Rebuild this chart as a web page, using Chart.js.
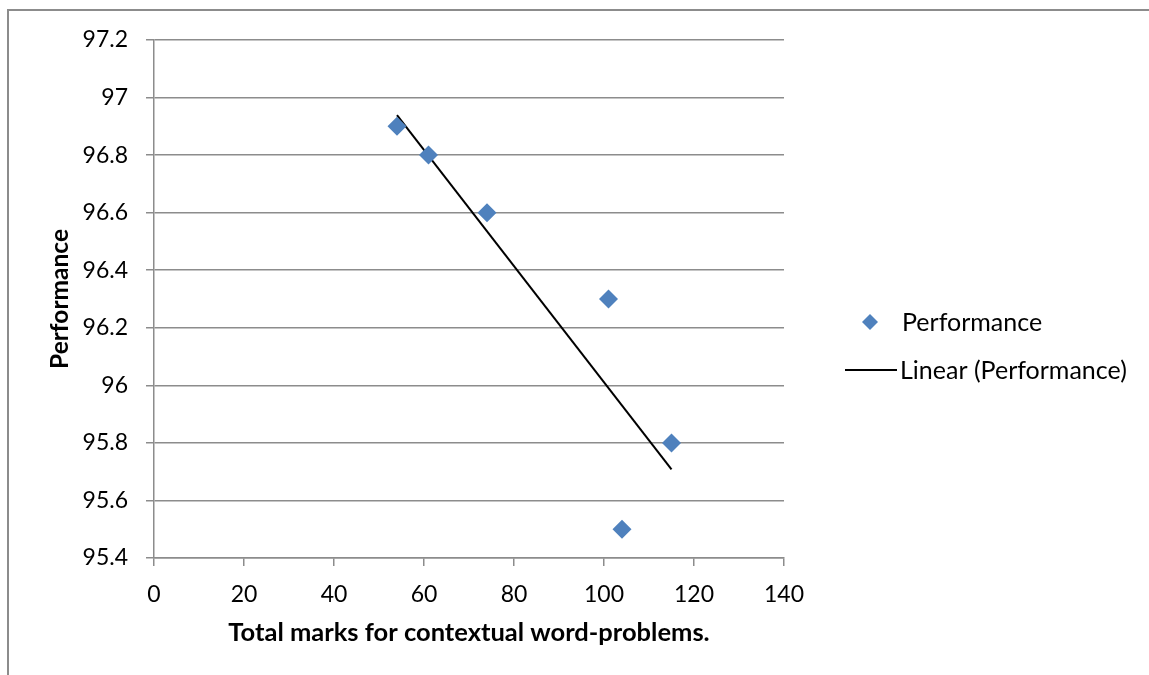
<!DOCTYPE html>
<html>
<head>
<meta charset="utf-8">
<script src="https://cdn.jsdelivr.net/npm/chart.js@4/dist/chart.umd.min.js"></script>
<style>
  html, body { margin: 0; padding: 0; background: #fff; }
  #wrap { position: relative; width: 1149px; height: 675px; overflow: hidden; }
  #frame { position: absolute; left: 7px; top: 9px; width: 1300px; height: 800px;
           border-left: 2px solid #8c8c8c; border-top: 2px solid #8c8c8c; box-sizing: border-box; }
  canvas { position: absolute; left: 0; top: 0; }
</style>
</head>
<body>
<div id="wrap">
  <div id="frame"></div>
  <canvas id="c" width="1149" height="675"></canvas>
</div>
<script>
// ---- data ----
const marks = [54, 61, 74, 101, 115, 104];
const performance = [96.9, 96.8, 96.6, 96.3, 95.8, 95.5];
const seriesLabel = "Performance";
const trendLabel = "Linear (Performance)";
const xTitle = "Total marks for contextual word-problems.";
const yTitle = "Performance";
const xMin = 0, xMax = 140, xStep = 20;
const yMin = 95.4, yMax = 97.2, yStep = 0.2;

// least-squares trend line, computed from the data
const n = marks.length;
const mx = marks.reduce((a, b) => a + b, 0) / n;
const my = performance.reduce((a, b) => a + b, 0) / n;
let sxy = 0, sxx = 0;
for (let i = 0; i < n; i++) { sxy += (marks[i] - mx) * (performance[i] - my); sxx += (marks[i] - mx) ** 2; }
const slope = sxy / sxx, intercept = my - slope * mx;
const x0 = Math.min(...marks), x1 = Math.max(...marks);
const trend = [{ x: x0, y: intercept + slope * x0 }, { x: x1, y: intercept + slope * x1 }];

const FONT = "Lato, 'Open Sans', sans-serif";
const GRID = "#8c8c8c";
const BLUE = "#4f81bd";

const legendPlugin = {
  id: "customLegend",
  afterDraw(chart) {
    const ctx = chart.ctx;
    ctx.save();
    ctx.font = "25px " + FONT;
    ctx.fillStyle = "#000";
    ctx.textBaseline = "middle";
    ctx.textAlign = "left";
    // diamond marker
    const dx = 870, dy = 322, r = 8;
    ctx.beginPath();
    ctx.moveTo(dx, dy - r); ctx.lineTo(dx + r, dy); ctx.lineTo(dx, dy + r); ctx.lineTo(dx - r, dy); ctx.closePath();
    ctx.fillStyle = BLUE; ctx.fill();
    ctx.fillStyle = "#000";
    ctx.fillText(chart.data.datasets[0].label, 902, 323);
    // line
    ctx.beginPath(); ctx.moveTo(845, 370); ctx.lineTo(897, 370);
    ctx.strokeStyle = "#000"; ctx.lineWidth = 2; ctx.stroke();
    ctx.fillText(chart.data.datasets[1].label, 900, 371);
    ctx.restore();
  }
};

const fmt = v => String(Number(Number(v).toFixed(1)));

new Chart(document.getElementById("c"), {
  type: "scatter",
  data: {
    datasets: [
      {
        label: seriesLabel,
        data: marks.map((m, i) => ({ x: m, y: performance[i] })),
        pointStyle: "rectRot",
        pointRadius: 9.5,
        pointHoverRadius: 9.5,
        backgroundColor: BLUE,
        borderColor: BLUE,
        borderWidth: 0
      },
      {
        label: trendLabel,
        type: "line",
        data: trend,
        showLine: true,
        pointRadius: 0,
        borderColor: "#000",
        borderWidth: 2,
        fill: false
      }
    ]
  },
  options: {
    responsive: false,
    animation: false,
    layout: { padding: { left: 45, right: 365, top: 40, bottom: 27 } },
    plugins: { legend: { display: false }, tooltip: { enabled: false } },
    scales: {
      x: {
        type: "linear",
        min: xMin, max: xMax,
        ticks: { stepSize: xStep, color: "#000", font: { family: FONT, size: 23 }, padding: 15, maxRotation: 0 },
        grid: { drawOnChartArea: false, color: GRID, lineWidth: 1.5, tickLength: 8, tickColor: GRID },
        border: { color: GRID, width: 1.5 },
        title: { display: true, text: xTitle, color: "#000", font: { family: FONT, size: 25.5, weight: "bold" }, padding: 0 },
        afterFit(s) { s.height = 90; }
      },
      y: {
        type: "linear",
        min: yMin, max: yMax,
        ticks: { stepSize: yStep, color: "#000", font: { family: FONT, size: 23 }, padding: 18, callback: v => fmt(v) },
        grid: { color: GRID, lineWidth: 1.5, tickLength: 8, tickColor: GRID },
        border: { color: GRID, width: 1.5 },
        title: { display: true, text: yTitle, color: "#000", font: { family: FONT, size: 24.5, weight: "bold" }, padding: 0 },
        afterFit(s) { s.width = 109; }
      }
    }
  },
  plugins: [legendPlugin]
});
</script>
</body>
</html>
